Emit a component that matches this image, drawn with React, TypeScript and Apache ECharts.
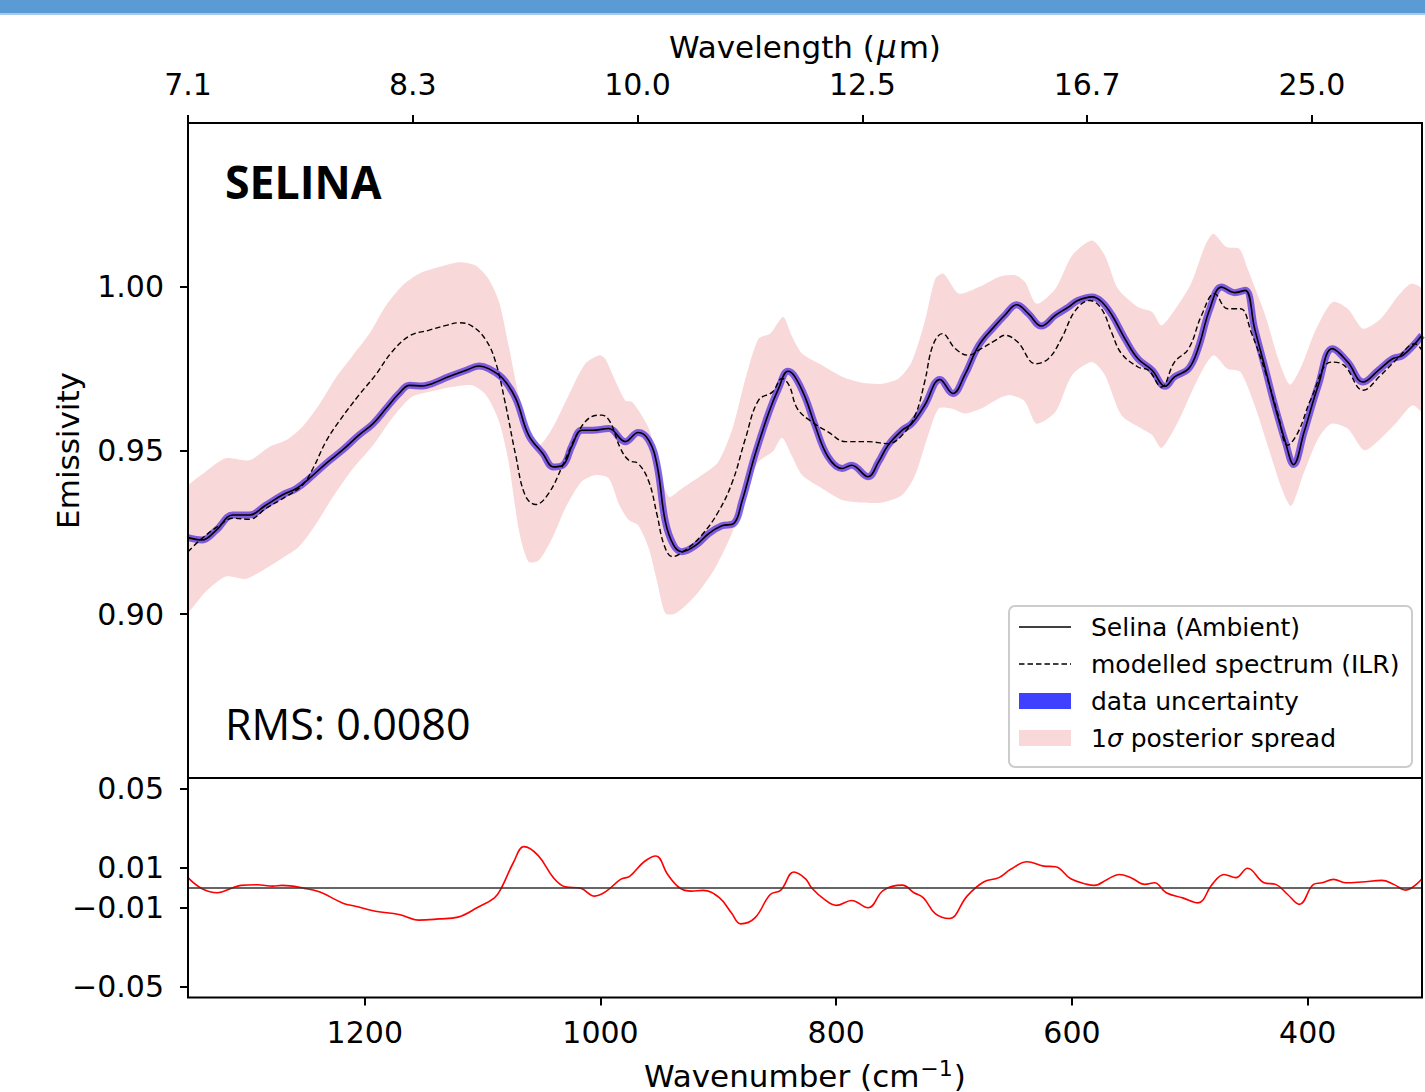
import React, { useEffect, useRef } from "react";
import * as echarts from "echarts";

// Wavenumber (cm^-1) / emissivity pairs
const selinaData: [number, number][] = [
  [1350, 0.9234], [1338, 0.9227], [1326, 0.9257], [1312, 0.9303], [1298, 0.9303], [1284, 0.9333],
  [1270, 0.9364], [1258, 0.9384], [1247, 0.9415], [1233, 0.946], [1219, 0.9501], [1205, 0.9547],
  [1193, 0.9582], [1182, 0.9628], [1171, 0.9674], [1162, 0.9699], [1151, 0.9697], [1143, 0.9704],
  [1129, 0.9725], [1114, 0.9745], [1103, 0.9758], [1095, 0.975], [1083, 0.972], [1072, 0.9659],
  [1061, 0.9547], [1049, 0.9491], [1040, 0.945], [1032, 0.9455], [1024, 0.9516], [1016, 0.9562],
  [1007, 0.9562], [993, 0.9567], [979, 0.9527], [968, 0.9555], [959, 0.9531], [952, 0.9455],
  [945, 0.9283], [938, 0.9211], [931, 0.9191], [919, 0.9211], [908, 0.9247], [897, 0.927],
  [887, 0.9277], [880, 0.9344], [869, 0.9486], [857, 0.9618], [849, 0.9689], [841, 0.9742],
  [835, 0.9725], [826, 0.9659], [818, 0.9577], [807, 0.9481], [795, 0.9445], [787, 0.9455],
  [773, 0.942], [764, 0.9466], [756, 0.9516], [744, 0.9562], [736, 0.9582], [725, 0.9638],
  [712, 0.9717], [701, 0.9674], [691, 0.973], [679, 0.9821], [665, 0.9882], [657, 0.9913],
  [647, 0.9945], [637, 0.9918], [626, 0.988], [614, 0.9913], [603, 0.9938], [595, 0.9958],
  [583, 0.9969], [575, 0.9955], [566, 0.9913], [555, 0.9841], [544, 0.978], [532, 0.9745],
  [521, 0.9696], [513, 0.9725], [501, 0.975], [493, 0.9811], [483, 0.9933], [473, 0.9999],
  [462, 0.9982], [453, 0.9989], [445, 0.9872], [436, 0.975], [428, 0.9638], [419, 0.9527],
  [412, 0.9457], [403, 0.9557], [391, 0.9699], [379, 0.9811], [366, 0.977], [353, 0.9709],
  [340, 0.9745], [328, 0.978], [319, 0.9791], [303, 0.9852],
];

const modelData: [number, number][] = [
  [1350, 0.9191], [1338, 0.9232], [1323, 0.9272], [1312, 0.9293], [1298, 0.929], [1284, 0.9323],
  [1267, 0.9359], [1253, 0.9394], [1244, 0.9445], [1233, 0.9527], [1222, 0.9588], [1205, 0.9669],
  [1191, 0.973], [1177, 0.9801], [1162, 0.985], [1146, 0.9867], [1131, 0.9882], [1120, 0.989],
  [1109, 0.988], [1097, 0.9836], [1089, 0.977], [1081, 0.9648], [1072, 0.9486], [1064, 0.9364],
  [1055, 0.9335], [1044, 0.9369], [1032, 0.9455], [1021, 0.9542], [1010, 0.9598], [999, 0.9608],
  [992, 0.9588], [983, 0.9506], [976, 0.947], [968, 0.946], [959, 0.9405], [952, 0.9303],
  [946, 0.9211], [939, 0.9176], [928, 0.9196], [914, 0.9242], [900, 0.9313], [888, 0.9405],
  [877, 0.9537], [866, 0.9653], [854, 0.9679], [846, 0.972], [840, 0.9699], [833, 0.9628],
  [821, 0.9588], [807, 0.9557], [792, 0.9527], [773, 0.9527], [756, 0.9521], [744, 0.9547],
  [733, 0.9608], [725, 0.9709], [718, 0.9821], [710, 0.9857], [699, 0.9811], [688, 0.9791],
  [677, 0.9811], [665, 0.9836], [657, 0.9852], [646, 0.9831], [631, 0.9765], [620, 0.978],
  [609, 0.9841], [597, 0.9928], [585, 0.9958], [575, 0.9933], [566, 0.9857], [558, 0.9796],
  [544, 0.9755], [535, 0.9745], [524, 0.9694], [513, 0.977], [501, 0.9811], [490, 0.9913],
  [479, 0.9979], [468, 0.9933], [457, 0.9933], [448, 0.9862], [436, 0.974], [425, 0.9608],
  [417, 0.9516], [408, 0.9557], [397, 0.9659], [380, 0.977], [369, 0.976], [353, 0.9684],
  [338, 0.973], [324, 0.978], [309, 0.9826], [303, 0.9806],
];

// 1-sigma posterior spread: upper and lower edges
const spreadUpper: [number, number][] = [
  [1352, 0.9378], [1335, 0.9435], [1318, 0.9476], [1298, 0.947], [1281, 0.9511], [1267, 0.9531],
  [1253, 0.9572], [1239, 0.9638], [1225, 0.972], [1210, 0.9791], [1196, 0.9857], [1182, 0.9943],
  [1168, 1.0004], [1154, 1.004], [1137, 1.006], [1120, 1.0075], [1106, 1.0065], [1095, 1.0024],
  [1086, 0.9953], [1078, 0.9821], [1069, 0.9659], [1061, 0.9547], [1052, 0.9516], [1041, 0.9567],
  [1027, 0.9669], [1013, 0.9765], [1001, 0.9791], [996, 0.978], [987, 0.9709], [979, 0.9653],
  [973, 0.9648], [959, 0.9567], [952, 0.9466], [942, 0.9359], [931, 0.9384], [914, 0.9425],
  [900, 0.9466], [888, 0.9567], [877, 0.972], [866, 0.9841], [856, 0.9857], [845, 0.9908],
  [838, 0.9852], [829, 0.9796], [812, 0.976], [795, 0.9725], [778, 0.9707], [761, 0.9704],
  [747, 0.972], [736, 0.977], [725, 0.9892], [716, 1.0024], [709, 1.004], [696, 0.9979],
  [679, 0.9999], [662, 1.003], [648, 1.0035], [640, 1.0015], [630, 0.9948], [614, 0.9994],
  [600, 1.0095], [583, 1.0141], [572, 1.0095], [561, 0.9994], [544, 0.9938], [532, 0.9923],
  [524, 0.9882], [513, 0.9928], [499, 1.0009], [487, 1.0126], [480, 1.0162], [469, 1.0121],
  [458, 1.0116], [451, 1.0055], [436, 0.9913], [425, 0.978], [415, 0.9701], [405, 0.976],
  [394, 0.9862], [379, 0.9953], [366, 0.9933], [353, 0.9872], [338, 0.9902], [323, 0.9973],
  [312, 1.0009], [301, 0.9985],
];

const spreadLower: [number, number][] = [
  [1352, 0.9005], [1335, 0.9069], [1318, 0.9115], [1301, 0.9108], [1284, 0.914], [1270, 0.9171],
  [1256, 0.9206], [1242, 0.9272], [1227, 0.9359], [1210, 0.9445], [1193, 0.9516], [1177, 0.9598],
  [1160, 0.9664], [1143, 0.9681], [1126, 0.9694], [1109, 0.9699], [1097, 0.9669], [1086, 0.9588],
  [1078, 0.9466], [1069, 0.9252], [1061, 0.916], [1052, 0.9166], [1041, 0.9232], [1030, 0.9323],
  [1016, 0.9405], [1004, 0.9425], [993, 0.9415], [984, 0.9333], [976, 0.9288], [968, 0.9272],
  [959, 0.9201], [952, 0.91], [945, 0.9003], [936, 0.9003], [919, 0.9059], [903, 0.914],
  [888, 0.9252], [877, 0.9384], [866, 0.9466], [854, 0.9496], [846, 0.9539], [838, 0.9486],
  [829, 0.9425], [812, 0.9384], [795, 0.9349], [778, 0.9341], [761, 0.9341], [744, 0.9364],
  [733, 0.9425], [722, 0.9547], [713, 0.9628], [702, 0.9628], [691, 0.9613], [677, 0.9628],
  [662, 0.9659], [652, 0.9669], [640, 0.965], [630, 0.9582], [614, 0.9618], [600, 0.973],
  [583, 0.977], [572, 0.973], [558, 0.9608], [541, 0.9567], [532, 0.9547], [524, 0.9508],
  [510, 0.9588], [493, 0.972], [480, 0.9791], [468, 0.975], [457, 0.974], [445, 0.9638],
  [434, 0.9516], [422, 0.9384], [414, 0.9331], [403, 0.9435], [391, 0.9537], [380, 0.9582],
  [366, 0.9567], [352, 0.9501], [338, 0.9537], [324, 0.9588], [311, 0.9638], [301, 0.9615],
];

// Residual (data - model)
const residualData: [number, number][] = [
  [1350, 0.0051], [1338, -0.0005], [1325, -0.0025], [1312, 0], [1305, 0.0012], [1291, 0.0015],
  [1278, 0.0008], [1270, 0.0012], [1251, -0.0003], [1238, -0.0022], [1218, -0.0079], [1208, -0.0093],
  [1191, -0.0118], [1171, -0.0135], [1154, -0.0163], [1137, -0.0157], [1121, -0.0148], [1104, -0.0098],
  [1090, -0.0051], [1084, 0], [1074, 0.0126], [1065, 0.0207], [1053, 0.0163], [1040, 0.0051],
  [1030, 0.0005], [1017, -0.0002], [1005, -0.0042], [995, -0.0017], [983, 0.0042], [975, 0.0059],
  [963, 0.0131], [953, 0.016], [943, 0.0067], [933, 0], [923, -0.0017], [913, -0.0013],
  [899, -0.0051], [889, -0.0126], [881, -0.0182], [869, -0.0152], [856, -0.0034], [847, -0.0012],
  [836, 0.0079], [826, 0.0045], [821, 0], [810, -0.0059], [800, -0.0089], [787, -0.0064],
  [773, -0.0101], [760, -0.0013], [744, 0.0013], [734, -0.0025], [726, -0.0051], [716, -0.013],
  [704, -0.0155], [689, -0.0042], [675, 0.0029], [662, 0.0051], [652, 0.0093], [638, 0.0131],
  [624, 0.0109], [614, 0.0106], [601, 0.0045], [587, 0.0017], [581, 0.0012], [570, 0.0042],
  [560, 0.0067], [550, 0.0051], [538, 0.0017], [530, 0.0025], [520, -0.0025], [506, -0.0051],
  [493, -0.0076], [481, 0.0017], [471, 0.0067], [461, 0.0051], [451, 0.0098], [437, 0.0025],
  [427, 0.0017], [417, -0.0034], [407, -0.0084], [395, 0.0017], [388, 0.0025], [378, 0.0042],
  [368, 0.0025], [354, 0.0029], [337, 0.0037], [327, 0.0017], [317, -0.0012], [303, 0.0045],
];

const topTicks = [1400, 1200, 1000, 800, 600, 400];
const bottomTicks = [1200, 1000, 800, 600, 400];
const mainYTicks = [0.9, 0.95, 1.0];
const residYTicks = [-0.05, -0.01, 0.01, 0.05];
const legendLabels = ["Selina (Ambient)", "modelled spectrum (ILR)", "data uncertainty", "1{i|σ} posterior spread"];

const FONT = "DejaVu Sans";
const PINK = "#f8d8d8";
const BLUE = "#4040ff";

const minusFmt = (v: number) => (v < 0 ? "\u2212" : "") + Math.abs(v).toFixed(2);

export default function App() {
  const ref = useRef<HTMLDivElement>(null);

  useEffect(() => {
    if (!ref.current) return;
    const chart = echarts.init(ref.current, null, { renderer: "svg" });

    const tickStyle = { show: true, inside: false, length: 8, lineStyle: { color: "#000", width: 2 } };
    const labelBase = { fontSize: 30, fontFamily: FONT, color: "#000" };
    const nameBase = { fontSize: 31, fontFamily: FONT, color: "#000" };
    const noLine = { show: false, onZero: false };

    const legendX = 1009;
    const legendY = 606;
    const rowY = [627, 664, 701, 738];

    const option: any = {
      animation: false,
      backgroundColor: "#fff",
      grid: [
        { left: 188, top: 123, width: 1234, height: 655, show: true, borderColor: "#000", borderWidth: 2, backgroundColor: "transparent", z: 10 },
        { left: 188, top: 778, width: 1234, height: 220, show: true, borderColor: "#000", borderWidth: 2, backgroundColor: "transparent", z: 10 },
      ],
      xAxis: [
        {
          gridIndex: 0, type: "value", position: "top", min: 302, max: 1400, inverse: true,
          axisLine: noLine, splitLine: { show: false },
          axisTick: { ...tickStyle, customValues: topTicks },
          axisLabel: { ...labelBase, customValues: topTicks, margin: 24, formatter: (v: number) => (10000 / v).toFixed(1) },
          name: "Wavelength ({i|μ}m)", nameLocation: "middle", nameGap: 61,
          nameTextStyle: { ...nameBase, rich: { i: { fontStyle: "italic", fontSize: 31, fontFamily: FONT, color: "#000", padding: [0, 2, 0, 2] } } },
        },
        { gridIndex: 0, type: "value", min: 303, max: 1350, inverse: true, show: false, axisLine: noLine },
        {
          gridIndex: 1, type: "value", position: "bottom", min: 303, max: 1350, inverse: true,
          axisLine: noLine, splitLine: { show: false },
          axisTick: { ...tickStyle, customValues: bottomTicks },
          axisLabel: { ...labelBase, customValues: bottomTicks, margin: 20, formatter: (v: number) => String(v) },
          name: "Wavenumber (cm{sup|\u22121})", nameLocation: "middle", nameGap: 60,
          nameTextStyle: {
            ...nameBase,
            rich: { sup: { fontSize: 22, fontFamily: FONT, color: "#000", verticalAlign: "top", padding: [0, 1, 14, 1] } },
          },
        },
      ],
      yAxis: [
        {
          gridIndex: 0, type: "value", min: 0.85, max: 1.05,
          axisLine: noLine, splitLine: { show: false },
          axisTick: { ...tickStyle, customValues: mainYTicks },
          axisLabel: { ...labelBase, customValues: mainYTicks, margin: 24, padding: [4, 0, 0, 0], formatter: (v: number) => v.toFixed(2) },
          name: "Emissivity", nameLocation: "middle", nameGap: 105, nameRotate: 90,
          nameTextStyle: { ...nameBase },
        },
        {
          gridIndex: 1, type: "value", min: -0.0553, max: 0.0553,
          axisLine: noLine, splitLine: { show: false },
          axisTick: { ...tickStyle, customValues: residYTicks },
          axisLabel: { ...labelBase, customValues: residYTicks, margin: 24, padding: [4, 0, 0, 0], formatter: minusFmt },
        },
      ],
      series: [
        {
          type: "custom", name: "1σ posterior spread", xAxisIndex: 1, yAxisIndex: 0, clip: true, silent: true, z: 1,
          data: [[1000, 0.95]],
          renderItem: (_params: any, api: any) => {
            const pts: number[][] = [];
            for (const p of spreadUpper) pts.push(api.coord(p));
            for (let i = spreadLower.length - 1; i >= 0; i--) pts.push(api.coord(spreadLower[i]));
            return { type: "polygon", shape: { points: pts, smooth: 0.25 }, style: { fill: PINK } };
          },
        },
        {
          type: "line", name: "data uncertainty", xAxisIndex: 1, yAxisIndex: 0, data: selinaData,
          showSymbol: false, symbol: "none", smooth: 0.4, z: 2, silent: true,
          lineStyle: { color: "rgba(70,30,225,0.68)", width: 7 },
        },
        {
          type: "line", name: "Selina (Ambient)", xAxisIndex: 1, yAxisIndex: 0, data: selinaData,
          showSymbol: false, symbol: "none", smooth: 0.4, z: 3, silent: true,
          lineStyle: { color: "#000", width: 1.6 },
        },
        {
          type: "line", name: "modelled spectrum (ILR)", xAxisIndex: 1, yAxisIndex: 0, data: modelData,
          showSymbol: false, symbol: "none", smooth: 0.4, z: 4, silent: true,
          lineStyle: { color: "#000", width: 1.4, type: [5.5, 3] },
        },
        {
          type: "line", name: "residual", xAxisIndex: 2, yAxisIndex: 1, data: residualData,
          showSymbol: false, symbol: "none", smooth: 0.4, z: 4, silent: true,
          lineStyle: { color: "#ff0000", width: 1.6 },
          markLine: {
            silent: true, symbol: "none", label: { show: false },
            lineStyle: { color: "#333", width: 1.5, type: "solid" },
            data: [{ yAxis: 0 }],
          },
        },
      ],
      graphic: [
        { type: "rect", z: 100, shape: { x: 0, y: 0, width: 1425, height: 13 }, style: { fill: "#5b9bd5" } },
        { type: "rect", z: 100, shape: { x: 0, y: 13, width: 1425, height: 2 }, style: { fill: "#a9c9e8" } },
        {
          type: "text", z: 100, x: 225, y: 181, scaleX: 0.95,
          style: { text: "SELINA", fontSize: 47, fontWeight: "bold", fontFamily: "Open Sans", fill: "#000", verticalAlign: "middle" },
        },
        {
          type: "text", z: 100, x: 225, y: 723,
          style: { text: "RMS: 0.0080", fontSize: 43, fontFamily: "Open Sans", fill: "#000", verticalAlign: "middle" },
        },
        {
          type: "rect", z: 100,
          shape: { x: legendX, y: legendY, width: 403, height: 161, r: 6 },
          style: { fill: "rgba(255,255,255,0.85)", stroke: "#cccccc", lineWidth: 2 },
        },
        { type: "line", z: 101, shape: { x1: 1019, y1: rowY[0], x2: 1071, y2: rowY[0] }, style: { stroke: "#000", lineWidth: 1.5 } },
        { type: "line", z: 101, shape: { x1: 1019, y1: rowY[1], x2: 1071, y2: rowY[1] }, style: { stroke: "#000", lineWidth: 1.4, lineDash: [5.5, 3] } },
        { type: "rect", z: 101, shape: { x: 1019, y: rowY[2] - 8, width: 52, height: 16 }, style: { fill: BLUE } },
        { type: "rect", z: 101, shape: { x: 1019, y: rowY[3] - 8, width: 52, height: 16 }, style: { fill: PINK } },
        ...legendLabels.map((t, i) => ({
          type: "text", z: 101, x: 1091, y: rowY[i],
          style: {
            text: t, fontSize: 25, fontFamily: FONT, fill: "#000", verticalAlign: "middle",
            rich: { i: { fontStyle: "italic", fontSize: 25, fontFamily: FONT, fill: "#000" } },
          },
        })),
      ],
    };

    chart.setOption(option);
    return () => chart.dispose();
  }, []);

  return (
    <div
      ref={ref}
      style={{ position: "absolute", left: 0, top: 0, width: 1425, height: 1092 }}
    />
  );
}
